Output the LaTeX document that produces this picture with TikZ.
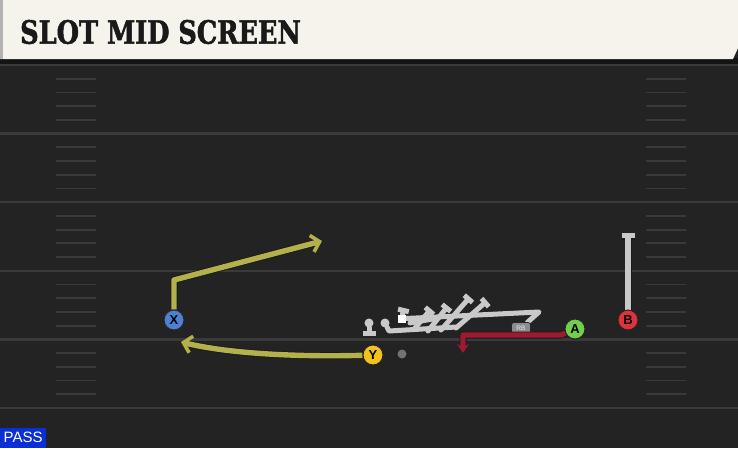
\documentclass[tikz,border=0pt]{standalone}
\usepackage{fontspec}
\usepackage{tikz}
\usetikzlibrary{arrows.meta}
\newfontfamily\titlefont{DejaVu Serif}[FakeStretch=0.80, FakeBold=1.6]
\newfontfamily\labelfont{Liberation Sans}
\definecolor{field}{HTML}{232323}
\definecolor{yardline}{HTML}{3A3A3A}
\definecolor{hashline}{HTML}{3A3A3A}
\definecolor{header}{HTML}{F6F3EC}
\definecolor{routey}{HTML}{B4B14C}
\definecolor{routea}{HTML}{9C1B30}
\definecolor{routeg}{HTML}{C9C9C9}
\definecolor{plx}{HTML}{4C80D2}
\definecolor{ply}{HTML}{F2C31A}
\definecolor{pla}{HTML}{72CF4A}
\definecolor{plb}{HTML}{E0323E}
\definecolor{passbox}{HTML}{0B2FD6}
\tikzset{
  player/.style={circle, draw=black!85, line width=1pt, minimum size=20pt,
    inner sep=0pt, font=\labelfont\bfseries\fontsize{13}{13}\selectfont},
  rbbox/.style={rounded corners=2.5pt, draw=black!85, fill=black!45, line width=0.8pt,
    minimum width=19pt, minimum height=11pt, inner sep=0pt,
    font=\labelfont\fontsize{6.5}{6.5}\selectfont, text=black!8},
  dot/.style={circle, inner sep=0pt, minimum size=9pt},
  route/.style={line width=5.4pt, line join=round,
    preaction={draw=black!90, line width=7pt}},
  barb/.style={-{Straight Barb[length=8pt, width=17pt, line width=3.6pt]}},
  mess/.style={line width=5pt, draw=routeg, line cap=round, line join=round}
}
\begin{document}
\begin{tikzpicture}[x=1pt, y=-1pt]
         \useasboundingbox (0, 0) rectangle (738, 448);
         \fill [field] (0, 0) rectangle (738, 448);
         \foreach \k in {0,...,5}
           \draw [yardline, line width=2.4pt] (0, 65+68.6*\k) -- (738, 65+68.6*\k);
         \foreach \k in {0,...,4}
           \foreach \j in {1,...,4} {
             \draw [hashline, line width=1.8pt] (56, 65+68.6*\k+13.72*\j) -- (96, 65+68.6*\k+13.72*\j);
             \draw [hashline, line width=1.8pt] (646, 65+68.6*\k+13.72*\j) -- (686, 65+68.6*\k+13.72*\j);
           }
         \fill [black!92] (0, 58) rectangle (738, 64);
         \fill [header] (0, 0) -- (738, 0) -- (738, 48) -- (733, 59) -- (0, 59) -- cycle;
         \fill [black!30] (0, 0) rectangle (3, 59);
         \node (TT) [anchor=west, inner sep=0pt, text=black!90] at (20, 32)
           {\titlefont\bfseries\fontsize{32}{32}\selectfont SLOT MID SCREEN};
         \node (PS) [anchor=south west, fill=passbox, text=white, minimum width=46pt,
           minimum height=20pt, inner sep=0pt, font=\labelfont\fontsize{15}{15}\selectfont]
           at (0, 448) {PASS};

         \node (SQ) [fill=white, minimum size=8pt, inner sep=0pt] at (401.5, 318.5) {};
         \node (LD) [dot, fill=routeg] at (385, 323) {};
         \coordinate (L1) at (389, 331);
         \coordinate (L2) at (456, 327);
         \coordinate (T0) at (404, 308);
         \coordinate (S1) at (415, 328);
         \coordinate (T1) at (431, 309);
         \coordinate (S2) at (428, 331);
         \coordinate (T2) at (448, 306);
         \coordinate (S3) at (441, 330);
         \coordinate (T3) at (470, 297);
         \coordinate (S4) at (456, 328);
         \coordinate (T4) at (487, 301);
         \coordinate (Z1) at (410, 323);
         \coordinate (Z2) at (438, 318);
         \coordinate (RK) at (539, 312);
         \node (RB) [rbbox] at (521, 328) {RB};
         \draw [mess] (LD) -- (L1) -- (L2);
         \draw [mess] (Z1) -- (Z2);
         \draw [mess, -{Bar[width=11pt]}] (SQ) -- (T0);
         \draw [mess, -{Bar[width=11pt]}] (S1) -- (T1);
         \draw [mess, -{Bar[width=11pt]}] (S2) -- (T2);
         \draw [mess, -{Bar[width=11pt]}] (S3) -- (T3);
         \draw [mess, -{Bar[width=11pt]}] (S4) -- (T4);
         \draw [mess] (RB) -- (RK) -- (SQ.east);
         \node (RB2) [rbbox] at (521, 328) {RB};
         \node (SQ2) [fill=white, minimum size=8pt, inner sep=0pt] at (401.5, 318.5) {};

         \node (PB) [dot, fill=routeg] at (369, 323) {};
         \coordinate (PE) at (369, 336);
         \draw [mess, -{Bar[width=13pt]}] (PB) -- (PE);
         \node (QB) [dot, fill=black!55] at (402, 354) {};

         \node (X) [player, fill=plx] at (174, 320) {X};
         \node (Y) [player, fill=ply] at (373, 355) {Y};
         \node (A) [player, fill=pla] at (575, 329) {A};
         \node (B) [player, fill=plb] at (628, 320) {B};
         \coordinate (XC) at (174, 280);
         \coordinate (XE) at (322, 241);
         \coordinate (YE) at (181, 342);
         \coordinate (AK) at (561, 335);
         \coordinate (AC) at (463, 335);
         \coordinate (AE) at (463, 353);
         \coordinate (BE) at (628, 233);
         \draw [route, routey, barb] (X) -- (XC) -- (XE);
         \draw [route, routey, barb] (Y) .. controls (300, 357) and (230, 354) .. (YE);
         \draw [route, routea, -{Stealth[length=9pt, width=12pt]}] (A) -- (AK) -- (AC) -- (AE);
         \draw [route, routeg, -{Bar[width=13pt]}] (B) -- (BE);
         \node (X2) [player, fill=plx] at (174, 320) {X};
         \node (Y2) [player, fill=ply] at (373, 355) {Y};
         \node (A2) [player, fill=pla] at (575, 329) {A};
         \node (B2) [player, fill=plb] at (628, 320) {B};
 \end{tikzpicture}
\end{document}
